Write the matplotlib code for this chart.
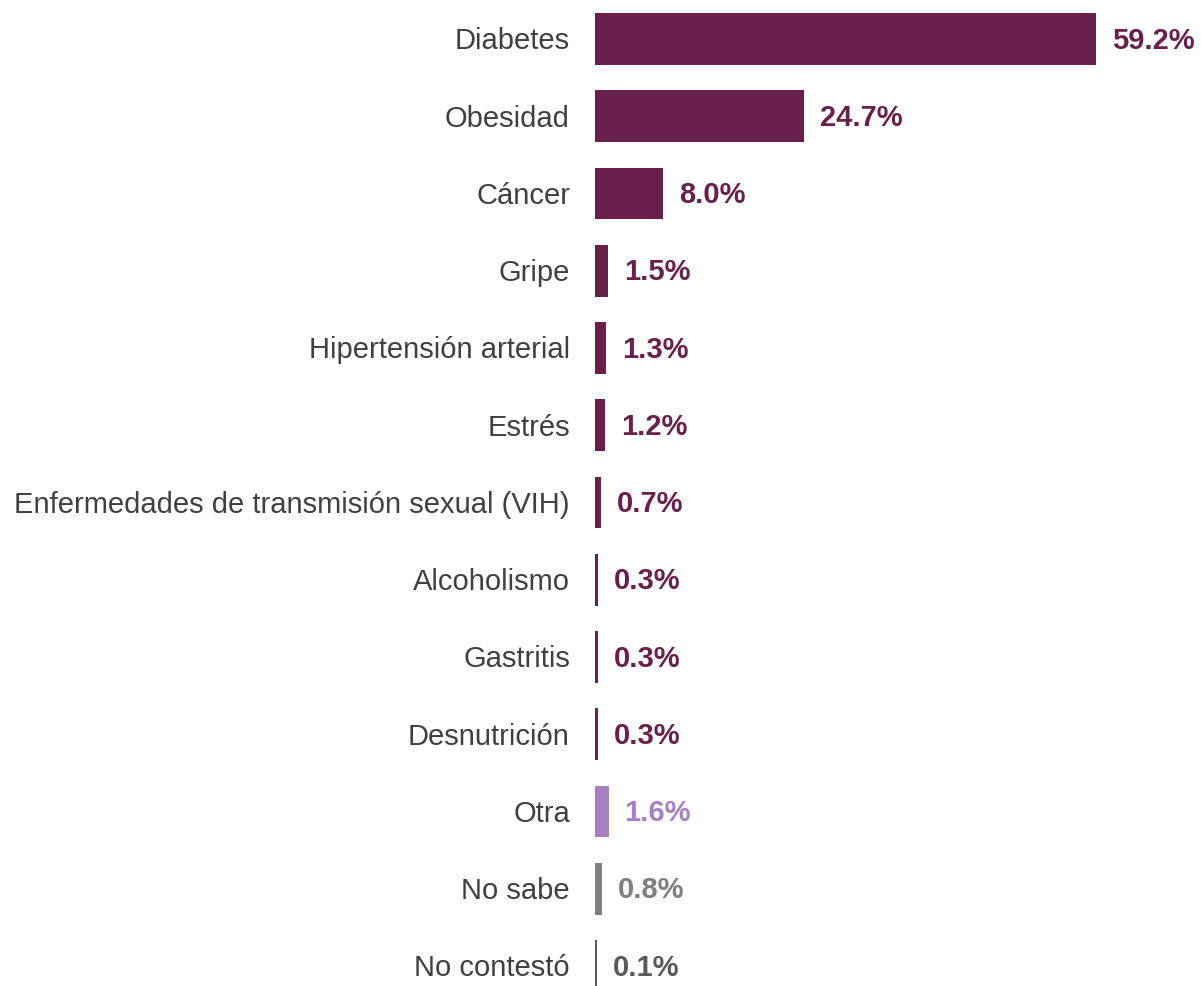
import matplotlib.pyplot as plt

categorias = [
    "Diabetes", "Obesidad", "Cáncer", "Gripe", "Hipertensión arterial", "Estrés",
    "Enfermedades de transmisión sexual (VIH)", "Alcoholismo", "Gastritis",
    "Desnutrición", "Otra", "No sabe", "No contestó",
]
porcentajes = [59.2, 24.7, 8.0, 1.5, 1.3, 1.2, 0.7, 0.3, 0.3, 0.3, 1.6, 0.8, 0.1]

GUINDA = "#69204A"
LILA = "#A97FC4"
GRIS = "#7F7F7F"
GRIS_OSCURO = "#595959"
colores_barra = [GUINDA] * 10 + [LILA, GRIS, GRIS_OSCURO]
colores_texto = [GUINDA] * 10 + [LILA, GRIS, GRIS_OSCURO]
TINTA = "#404040"

plt.rcParams["font.family"] = ["Liberation Sans", "DejaVu Sans"]

fig = plt.figure(figsize=(12.01, 9.86), dpi=100)
fig.patch.set_facecolor("white")
ax = fig.add_axes([595 / 1201, 0, 606 / 1201, 1])

y = list(range(len(categorias)))
# ancho mínimo visible para barras muy pequeñas
anchos = [max(v, 0.2) for v in porcentajes]
ax.barh(y, anchos, height=0.67, color=colores_barra, edgecolor="none")

for yi, v, c in zip(y, porcentajes, colores_texto):
    ax.text(max(v, 0.2) + 1.9, yi + 0.02, f"{v:.1f}%", va="center", ha="left",
            fontsize=21, fontweight="bold", color=c)

for yi, etiqueta in zip(y, categorias):
    ax.text(-25 / 8.46, yi + 0.03, etiqueta, va="center", ha="right",
            fontsize=21, color=TINTA, clip_on=False)

ax.set_xlim(0, 606 / 8.46)
ax.set_ylim(12 + 20 / 77.25, -39 / 77.25)
ax.axis("off")

fig.savefig("out.png", dpi=100, facecolor="white")
